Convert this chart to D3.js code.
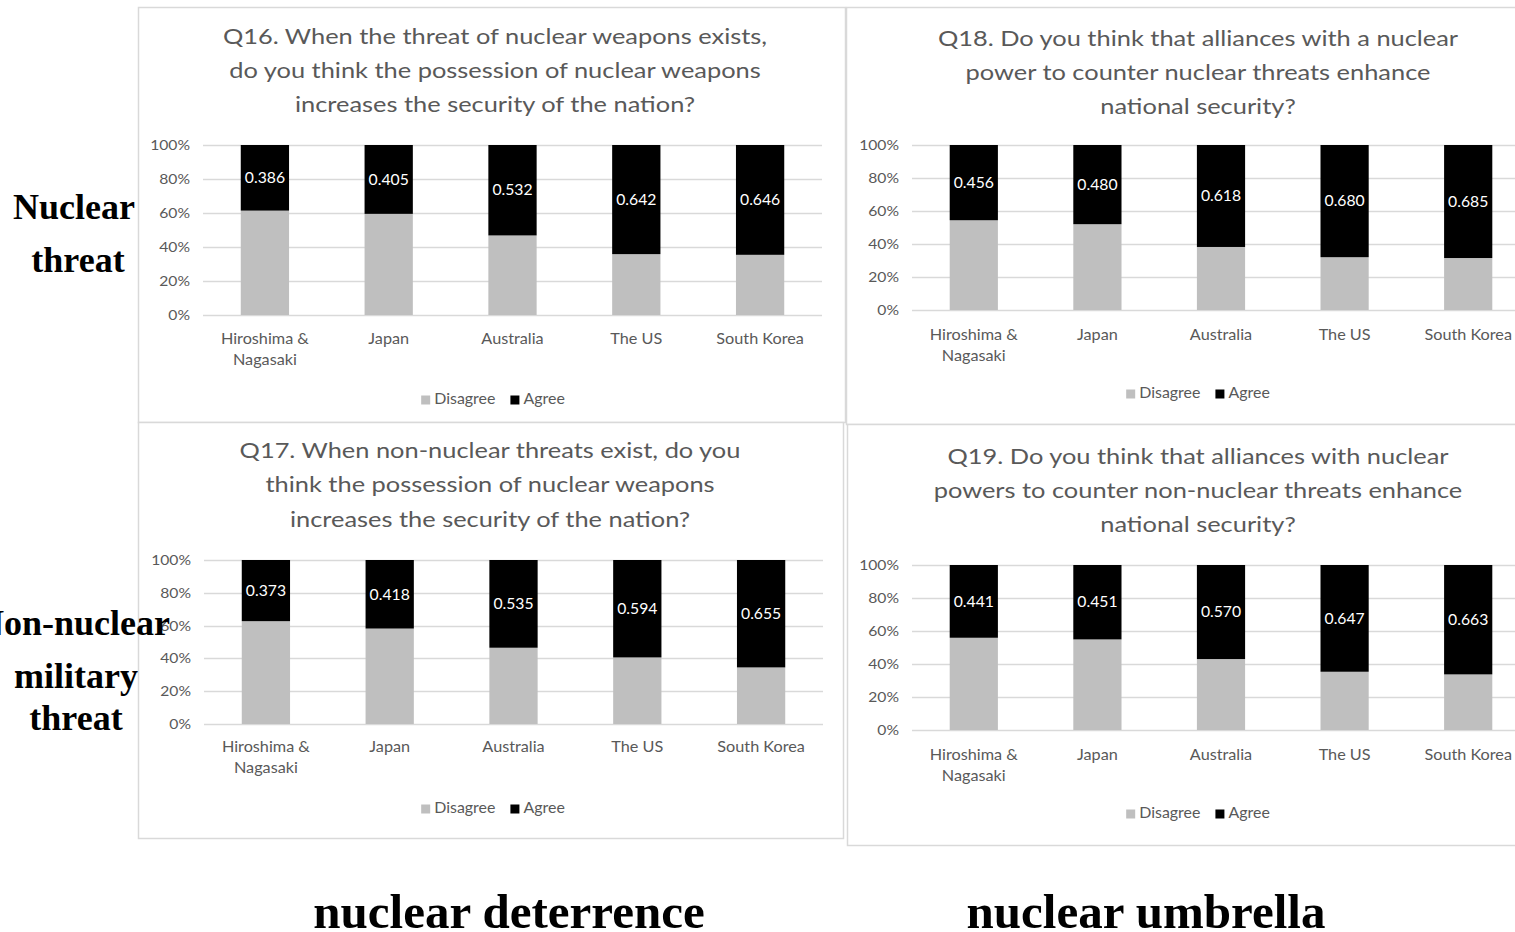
<!DOCTYPE html>
<html>
<head>
<meta charset="utf-8">
<script src="https://cdn.jsdelivr.net/npm/d3@7/dist/d3.min.js"></script>
<style>
  html, body { margin: 0; padding: 0; background: #fff; }
  svg { display: block; }
</style>
</head>
<body>
<svg id="chart" width="1515" height="932"></svg>
<script>
// ---- data ----
const categories = ["Hiroshima &\nNagasaki", "Japan", "Australia", "The US", "South Korea"];
const seriesNames = ["Disagree", "Agree"];
const tickValues = [0, 0.2, 0.4, 0.6, 0.8, 1.0];

const q16Agree    = [0.386, 0.405, 0.532, 0.642, 0.646];
const q16Disagree = [0.614, 0.595, 0.468, 0.358, 0.354];
const q17Agree    = [0.373, 0.418, 0.535, 0.594, 0.655];
const q17Disagree = [0.627, 0.582, 0.465, 0.406, 0.345];
const q18Agree    = [0.456, 0.480, 0.618, 0.680, 0.685];
const q18Disagree = [0.544, 0.520, 0.382, 0.320, 0.315];
const q19Agree    = [0.441, 0.451, 0.570, 0.647, 0.663];
const q19Disagree = [0.559, 0.549, 0.430, 0.353, 0.337];

const q16Title = ["Q16. When the threat of nuclear weapons exists,", "do you think the possession of nuclear weapons", "increases the security of the nation?"];
const q17Title = ["Q17. When non-nuclear threats exist, do you", "think the possession of nuclear weapons", "increases the security of the nation?"];
const q18Title = ["Q18. Do you think that alliances with a nuclear", "power to counter nuclear threats enhance", "national security?"];
const q19Title = ["Q19. Do you think that alliances with nuclear", "powers to counter non-nuclear threats enhance", "national security?"];

const rowLabels = [["Nuclear", "threat"], ["Non-nuclear", "military", "threat"]];
const colLabels = ["nuclear deterrence", "nuclear umbrella"];

// ---- styling ----
const GRAY = "#bfbfbf", BLACK = "#000000", GRID = "#d9d9d9", TEXT = "#595959", BORDER = "#d9d9d9";
const FONT = "Lato, 'Open Sans', sans-serif";
const SERIF = "'Liberation Serif', 'Times New Roman', serif";

const svg = d3.select("#chart");

// place a text at (x, y) with a horizontal stretch
function placeText(parent, x, y, str, opts) {
  return parent.append("text")
    .attr("transform", `translate(${x},${y}) scale(${opts.sx || 1},1)`)
    .attr("text-anchor", opts.anchor || "middle")
    .attr("dy", "0.35em")
    .attr("font-family", FONT).attr("font-size", opts.size).attr("fill", opts.fill || TEXT)
    .text(str);
}

// panel layouts: border box, plot area, title/category/legend rows (absolute px)
const panels = [
  { title: q16Title, agree: q16Agree, disagree: q16Disagree,
    box: [138, 7, 845, 422], plot: [203, 145, 822, 315], titleX: 495, titleY: [37, 71, 105],
    catY: 339, legendY: 399, legendX: 493 },
  { title: q18Title, agree: q18Agree, disagree: q18Disagree,
    box: [846, 7, 1552, 424], plot: [912, 145, 1530, 310], titleX: 1198, titleY: [39, 73, 107],
    catY: 335, legendY: 393, legendX: 1198 },
  { title: q17Title, agree: q17Agree, disagree: q17Disagree,
    box: [138, 422, 843, 838], plot: [204, 560, 823, 724], titleX: 490, titleY: [451, 485, 520],
    catY: 747, legendY: 808, legendX: 493 },
  { title: q19Title, agree: q19Agree, disagree: q19Disagree,
    box: [847, 424, 1552, 845], plot: [912, 565, 1530, 730], titleX: 1198, titleY: [457, 491, 525],
    catY: 755, legendY: 813, legendX: 1198 }
];

function drawPanel(p) {
  const g = svg.append("g");
  const [bx0, by0, bx1, by1] = p.box;
  g.append("rect")
    .attr("x", bx0 + 0.5).attr("y", by0 + 0.5)
    .attr("width", bx1 - bx0).attr("height", by1 - by0)
    .attr("fill", "#fff").attr("stroke", BORDER).attr("stroke-width", 1.5);

  // title
  const tg = g.append("g");
  p.title.forEach((ln, i) => placeText(tg, p.titleX, p.titleY[i], ln, { size: 21, sx: 1.21 }));

  const [px0, py0, px1, py1] = p.plot;
  const x = d3.scaleBand().domain(categories).range([px0, px1]).paddingInner(0.61).paddingOuter(0.305);
  const y = d3.scaleLinear().domain([0, 1]).range([py1, py0]);

  // gridlines
  g.append("g").selectAll("line").data(tickValues).join("line")
    .attr("x1", px0).attr("x2", px1)
    .attr("y1", d => Math.round(y(d)) + 0.5).attr("y2", d => Math.round(y(d)) + 0.5)
    .attr("stroke", GRID).attr("stroke-width", 1.3);

  // y axis labels
  const yAxis = d3.axisLeft(y).tickValues(tickValues).tickFormat(d3.format(".0%")).tickSize(0).tickPadding(0);
  const ag = g.append("g").attr("transform", `translate(${px0 - 13},0)`).call(yAxis);
  ag.select(".domain").remove();
  ag.selectAll("text")
    .attr("x", null)
    .attr("transform", "scale(1.12,1)")
    .attr("font-family", FONT).attr("font-size", 14).attr("fill", TEXT);

  // stacked bars
  const rows = categories.map((c, i) => ({ cat: c, Disagree: p.disagree[i], Agree: p.agree[i] }));
  const stack = d3.stack().keys(seriesNames)(rows);
  const colors = { Disagree: GRAY, Agree: BLACK };
  stack.forEach(layer => {
    g.append("g").selectAll("rect").data(layer).join("rect")
      .attr("x", d => x(d.data.cat)).attr("width", x.bandwidth())
      .attr("y", d => y(Math.min(d[1], 1))).attr("height", d => y(d[0]) - y(Math.min(d[1], 1)))
      .attr("fill", colors[layer.key]);
  });

  // data labels centred on the Agree segment
  const lg0 = g.append("g");
  stack[1].forEach(d => {
    placeText(lg0, x(d.data.cat) + x.bandwidth() / 2, y((d[0] + Math.min(d[1], 1)) / 2),
      d3.format(".3f")(d.data.Agree), { size: 15, sx: 1.05, fill: "#fff" });
  });

  // category labels
  const cg = g.append("g");
  categories.forEach(c => {
    c.split("\n").forEach((ln, i) => {
      placeText(cg, x(c) + x.bandwidth() / 2, p.catY + i * 21, ln, { size: 14.5, sx: 1.12 });
    });
  });

  // legend
  const lg = g.append("g");
  const items = seriesNames.map(k => ({ key: k, color: colors[k] }));
  const sx = 1.1, sw = 9, gapS = 4, gapI = 15;
  const labels = items.map(it => placeText(lg, 0, p.legendY, it.key, { size: 14.5, sx, anchor: "start" }));
  const widths = labels.map(t => t.node().getComputedTextLength() * sx);
  const total = d3.sum(widths) + items.length * (sw + gapS) + gapI * (items.length - 1);
  let cx = p.legendX - total / 2;
  items.forEach((it, i) => {
    lg.append("rect").attr("x", cx).attr("y", p.legendY - sw / 2 + 1).attr("width", sw).attr("height", sw).attr("fill", it.color);
    labels[i].attr("transform", `translate(${cx + sw + gapS},${p.legendY}) scale(${sx},1)`);
    cx += sw + gapS + widths[i] + gapI;
  });
}

panels.forEach(drawPanel);

// row labels (left side)
const rowPos = [
  { xs: [74, 78], ys: [219, 272] },
  { xs: [74, 76, 76], ys: [635, 688, 730] }
];
rowLabels.forEach((lines, r) => {
  svg.append("g").selectAll("text").data(lines).join("text")
    .attr("x", (d, i) => rowPos[r].xs[i]).attr("y", (d, i) => rowPos[r].ys[i])
    .attr("text-anchor", "middle")
    .attr("font-family", SERIF).attr("font-weight", "bold").attr("font-size", 36).attr("fill", "#000")
    .text(d => d);
});

// column labels (bottom)
const colX = [509, 1146];
svg.append("g").selectAll("text").data(colLabels).join("text")
  .attr("x", (d, i) => colX[i]).attr("y", 928)
  .attr("text-anchor", "middle")
  .attr("font-family", SERIF).attr("font-weight", "bold").attr("font-size", 49).attr("fill", "#000")
  .text(d => d);
</script>
</body>
</html>
